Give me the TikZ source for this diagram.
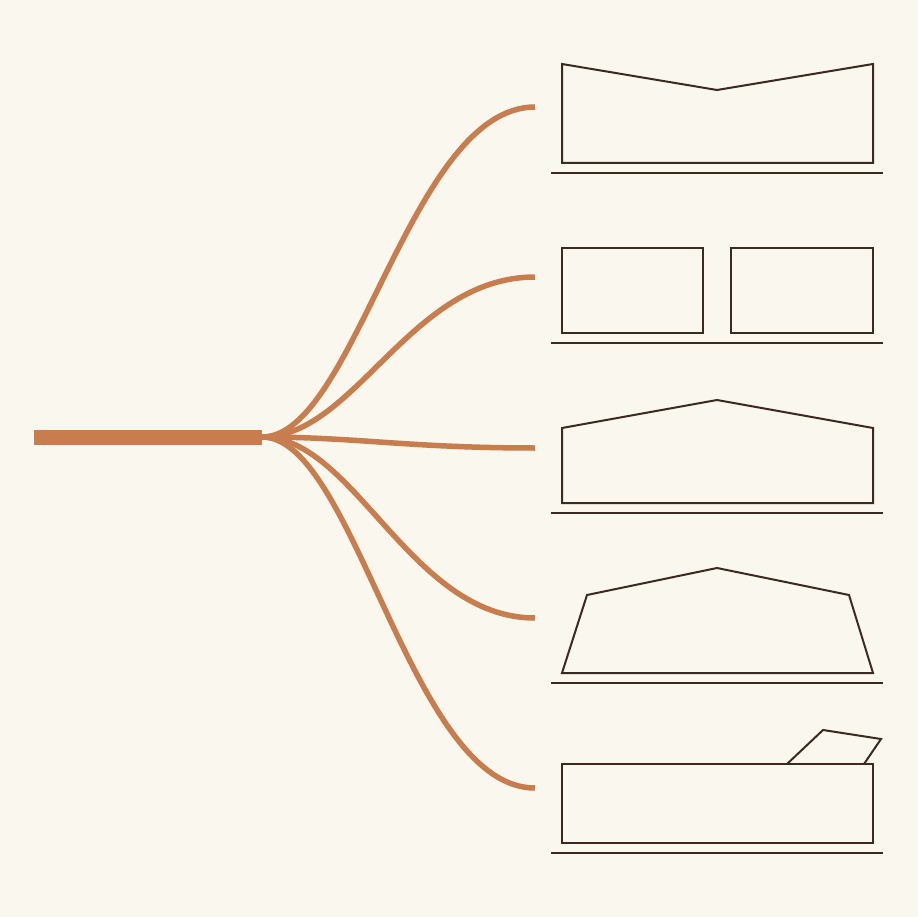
\documentclass[tikz,border=0pt]{standalone}
\usepackage{tikz}
\definecolor{paper}{HTML}{FAF7EF}
\definecolor{copper}{HTML}{C87D4F}
\definecolor{ink}{HTML}{3A2A20}

\begin{document}
\begin{tikzpicture}[x=1pt, y=-1pt,
    bundle/.style={copper, line width=15pt},
    wire/.style={copper, line width=5.5pt},
    outline/.style={ink, line width=2pt, line join=miter},
    ground/.style={ink, line width=2pt}]
    \fill [paper] (0, 0) rectangle (918, 917);
    \useasboundingbox (0, 0) rectangle (918, 917);
    % main cable and hub
    \coordinate (tail) at (34, 437);
    \coordinate (hub) at (262, 437);
    \draw [bundle] (tail) -- (hub);
    % wires to each outline
    \foreach \name/\y in {a/107, b/277, c/448, d/618, e/788} {
      \coordinate (\name) at (535, \y);
      \draw [wire] (hub) .. controls +(93, 0) and +(-125, 0) .. (\name);
    }
    % ground lines
    \foreach \y in {173, 343, 513, 683, 853} {
      \coordinate (gl\y) at (551, \y);
      \coordinate (gr\y) at (883, \y);
      \draw [ground] (gl\y) -- (gr\y);
    }
    % butterfly roof
    \draw [outline] (562, 163) -- (562, 64) -- (717, 90) -- (873, 64) -- (873, 163) -- cycle;
    % two blocks
    \draw [outline] (562, 248) rectangle (703, 333);
    \draw [outline] (731, 248) rectangle (873, 333);
    % gable roof
    \draw [outline] (562, 503) -- (562, 428) -- (717, 400) -- (873, 428) -- (873, 503) -- cycle;
    % tapered walls
    \draw [outline] (562, 673) -- (587, 595) -- (717, 568) -- (849, 595) -- (873, 673) -- cycle;
    % box with raised flap
    \draw [outline] (562, 764) rectangle (873, 843);
    \draw [outline] (787, 764) -- (823, 730) -- (881, 739) -- (864, 764);
\end{tikzpicture}
\end{document}
